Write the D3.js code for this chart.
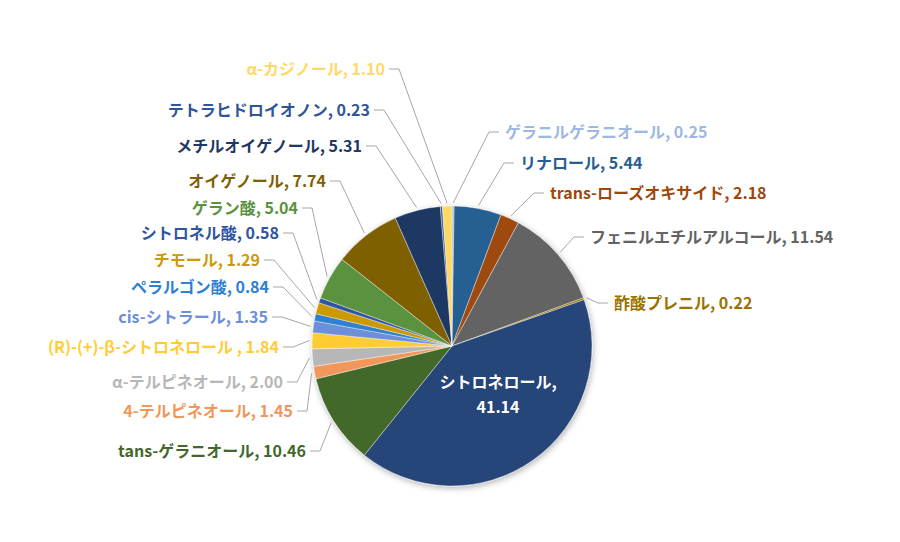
<!DOCTYPE html>
<html>
<head>
<meta charset="utf-8">
<script src="https://cdn.jsdelivr.net/npm/d3@7"></script>
<style>
  body { margin: 0; background: #fff; }
  svg text { font-family: "Noto Sans CJK JP", "Noto Sans", sans-serif; font-weight: bold; }
</style>
</head>
<body>
<script>
const width = 900, height = 542;
const cx = 452, cy = 346, radius = 140;

// slices, clockwise from 12 o'clock
const names = [
  "ゲラニルゲラニオール", "リナロール", "trans-ローズオキサイド", "フェニルエチルアルコール",
  "酢酸プレニル", "シトロネロール", "tans-ゲラニオール", "4-テルピネオール",
  "α-テルピネオール", "(R)-(+)-β-シトロネロール ", "cis-シトラール", "ペラルゴン酸",
  "チモール", "シトロネル酸", "ゲラン酸", "オイゲノール",
  "メチルオイゲノール", "テトラヒドロイオノン", "α-カジノール"
];
const values = [
  0.25, 5.44, 2.18, 11.54,
  0.22, 41.14, 10.46, 1.45,
  2.00, 1.84, 1.35, 0.84,
  1.29, 0.58, 5.04, 7.74,
  5.31, 0.23, 1.10
];
const colors = [
  "#9db8e3", "#255e91", "#9e480e", "#636363",
  "#997300", "#264478", "#43682b", "#f1975a",
  "#b7b7b7", "#ffcd33", "#6d8ed8", "#2e80d0",
  "#cc9a06", "#2f55a0", "#5a9240", "#7f6000",
  "#1f3864", "#2f5597", "#ffd966"
];
// label anchor offsets from pie centre (left labels end there, right ones start there)
const labelPos = [
  [53, -214], [68, -183], [98, -153], [138, -109],
  [162, -43], [46, 36], [-146, 105], [-159, 65],
  [-169, 36], [-173, 1], [-184, -29], [-183, -59],
  [-192, -86], [-173, -113], [-154, -138], [-126, -165],
  [-90, -200], [-82, -236], [-67, -277]
];
const insideIndex = 5;

const data = names.map((n, i) => ({ name: n, value: values[i], color: colors[i], pos: labelPos[i], i: i }));

const svg = d3.select('body').append('svg')
    .attr('width', width)
    .attr('height', height);

const defs = svg.append('defs');
const shadow = defs.append('filter').attr('id', 'shadow')
    .attr('x', '-20%').attr('y', '-20%').attr('width', '140%').attr('height', '140%');
shadow.append('feDropShadow')
    .attr('dx', 1).attr('dy', 2).attr('stdDeviation', 3)
    .attr('flood-color', '#000').attr('flood-opacity', 0.3);

const g = svg.append('g')
    .attr('transform', `translate(${cx},${cy})`);

const pie = d3.pie().sort(null).value(d => d.value);
const arcs = pie(data);

const arc = d3.arc().innerRadius(0).outerRadius(radius);
const edge = d3.arc().innerRadius(radius + 3).outerRadius(radius + 3);

g.append('g')
    .attr('filter', 'url(#shadow)')
  .selectAll('path')
  .data(arcs)
  .join('path')
    .attr('d', arc)
    .attr('fill', d => d.data.color)
    .attr('stroke', '#fff')
    .attr('stroke-width', 0.4);

const outside = arcs.filter(d => d.data.i !== insideIndex);

// leader lines
g.append('g')
  .selectAll('polyline')
  .data(outside)
  .join('polyline')
    .attr('fill', 'none')
    .attr('stroke', '#a6a6a6')
    .attr('stroke-width', 1)
    .attr('points', d => {
      const [x, y] = d.data.pos;
      const left = x < 0;
      const p1 = [left ? x + 4 : x - 6, y];
      const p2 = [left ? x + 14 : x - 16, y];
      return [p1, p2, edge.centroid(d)].map(p => p.join(',')).join(' ');
    });

// labels
g.append('g')
  .selectAll('text')
  .data(outside)
  .join('text')
    .attr('x', d => d.data.pos[0])
    .attr('y', d => d.data.pos[1])
    .attr('dy', '0.35em')
    .attr('text-anchor', d => d.data.pos[0] < 0 ? 'end' : 'start')
    .attr('fill', d => d.data.color)
    .style('font-size', '16px')
    .text(d => `${d.data.name}, ${d.data.value.toFixed(2)}`);

// label inside the biggest slice
const big = arcs[insideIndex];
const inner = g.append('text')
    .attr('text-anchor', 'middle')
    .attr('fill', '#fff')
    .style('font-size', '16px');
inner.append('tspan')
    .attr('x', big.data.pos[0])
    .attr('y', big.data.pos[1])
    .attr('dy', '0.35em')
    .text(big.data.name + ',');
inner.append('tspan')
    .attr('x', big.data.pos[0])
    .attr('y', big.data.pos[1] + 25)
    .attr('dy', '0.35em')
    .text(big.data.value.toFixed(2));
</script>
</body>
</html>
